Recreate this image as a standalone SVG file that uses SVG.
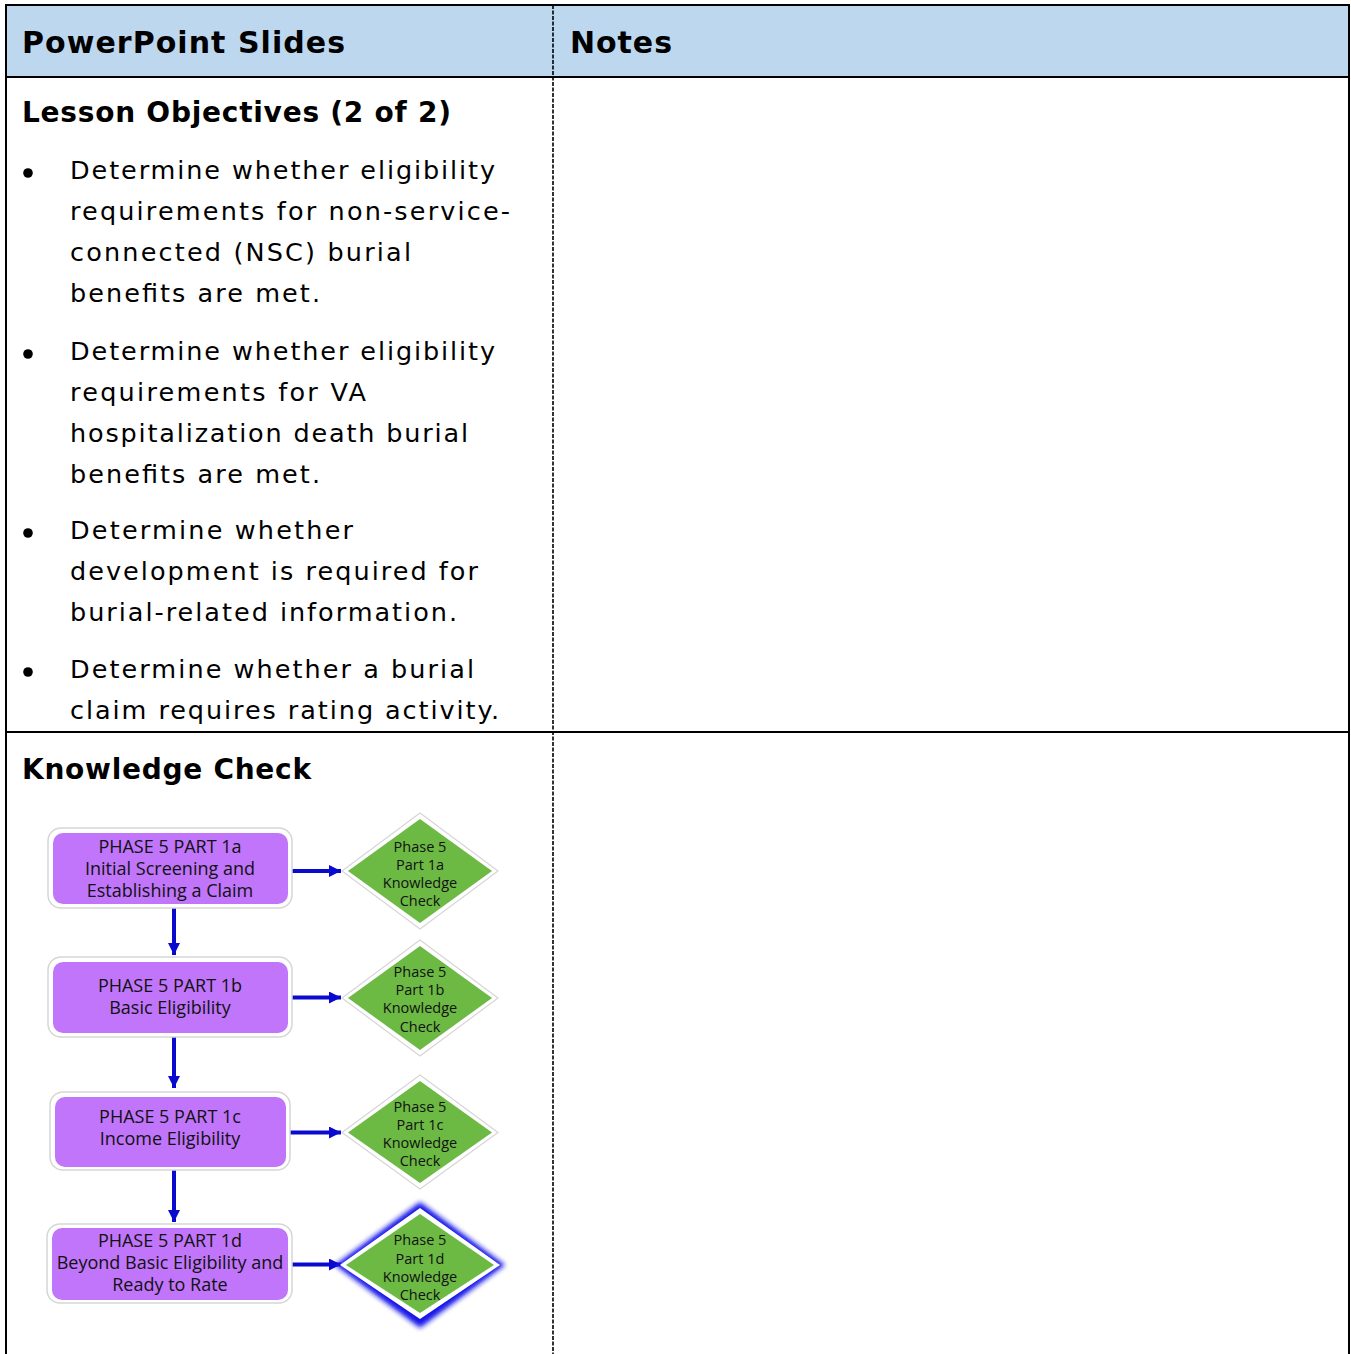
<svg xmlns="http://www.w3.org/2000/svg" width="1351" height="1354" viewBox="0 0 1351 1354">
<defs>
<style>
.hdr{font-family:"DejaVu Sans",Verdana,sans-serif;font-weight:bold;font-size:28px;fill:#000}
.hdr-top{font-size:30px}
.body{font-family:"DejaVu Sans",Verdana,sans-serif;font-size:25.5px;fill:#000}
.box-outer{fill:#fff;stroke:#d6d6d6;stroke-width:1.5}
.box-inner{fill:#C075FA}
.btxt{font-family:"Open Sans",sans-serif;font-size:18px;fill:#111;text-anchor:middle}
.dtxt{font-family:"Open Sans",sans-serif;font-size:14.5px;fill:#111;text-anchor:middle}
.dia-outer{fill:#fff;stroke:#d6d6d6;stroke-width:1.2}
.dia-inner{fill:#6CB944}
.conn{stroke:#0A0ACF;stroke-width:4;fill:none}
</style>
<marker id="ah" viewBox="0 0 10 10" refX="10" refY="5" markerWidth="3" markerHeight="3" markerUnits="strokeWidth" orient="auto">
<path d="M0,0 L10,5 L0,10 z" fill="#0A0ACF"/>
</marker>
<filter id="glow" x="-20%" y="-20%" width="140%" height="140%">
<feGaussianBlur stdDeviation="2.5"/>
</filter>
</defs>

<g id="table">
<rect x="6" y="5" width="1343" height="72" fill="#BDD7EE"/>
<line x1="5" y1="5" x2="1350" y2="5" stroke="#000" stroke-width="2"/>
<line x1="6" y1="4" x2="6" y2="1354" stroke="#000" stroke-width="2"/>
<line x1="1349" y1="4" x2="1349" y2="1354" stroke="#000" stroke-width="2"/>
<line x1="5" y1="77" x2="1350" y2="77" stroke="#000" stroke-width="2"/>
<line x1="5" y1="732" x2="1350" y2="732" stroke="#000" stroke-width="2"/>
<line x1="553" y1="5" x2="553" y2="1354" stroke="#000" stroke-width="1.6" stroke-dasharray="4 1.5"/>
<text class="hdr hdr-top" x="22" y="53" textLength="323" lengthAdjust="spacing">PowerPoint Slides</text>
<text class="hdr hdr-top" x="570" y="53" textLength="102" lengthAdjust="spacing">Notes</text>
</g>

<g id="objectives">
<text class="hdr" x="22" y="122" textLength="429" lengthAdjust="spacing">Lesson Objectives (2 of 2)</text>
<circle cx="28" cy="173" r="4.8"/>
<text class="body" x="70" y="179" textLength="425" lengthAdjust="spacing">Determine whether eligibility</text>
<text class="body" x="70" y="220" textLength="440" lengthAdjust="spacing">requirements for non-service-</text>
<text class="body" x="70" y="261" textLength="341" lengthAdjust="spacing">connected (NSC) burial</text>
<text class="body" x="70" y="302" textLength="250" lengthAdjust="spacing">benefits are met.</text>
<circle cx="28" cy="354" r="4.8"/>
<text class="body" x="70" y="360" textLength="425" lengthAdjust="spacing">Determine whether eligibility</text>
<text class="body" x="70" y="401" textLength="296" lengthAdjust="spacing">requirements for VA</text>
<text class="body" x="70" y="442" textLength="398" lengthAdjust="spacing">hospitalization death burial</text>
<text class="body" x="70" y="483" textLength="250" lengthAdjust="spacing">benefits are met.</text>
<circle cx="28" cy="533" r="4.8"/>
<text class="body" x="70" y="539" textLength="283" lengthAdjust="spacing">Determine whether</text>
<text class="body" x="70" y="580" textLength="408" lengthAdjust="spacing">development is required for</text>
<text class="body" x="70" y="621" textLength="387" lengthAdjust="spacing">burial-related information.</text>
<circle cx="28" cy="672" r="4.8"/>
<text class="body" x="70" y="678" textLength="404" lengthAdjust="spacing">Determine whether a burial</text>
<text class="body" x="70" y="719" textLength="429" lengthAdjust="spacing">claim requires rating activity.</text>
</g>

<g id="kc-heading">
<text class="hdr" x="22" y="779" textLength="289" lengthAdjust="spacing">Knowledge Check</text>
</g>

<g id="connectors">
<line class="conn" x1="174" y1="908" x2="174" y2="955" marker-end="url(#ah)"/>
<line class="conn" x1="174" y1="1037" x2="174" y2="1088" marker-end="url(#ah)"/>
<line class="conn" x1="174" y1="1170" x2="174" y2="1222" marker-end="url(#ah)"/>
<line class="conn" x1="292" y1="871" x2="341" y2="871" marker-end="url(#ah)"/>
<line class="conn" x1="292" y1="997.5" x2="341" y2="997.5" marker-end="url(#ah)"/>
<line class="conn" x1="290" y1="1132.5" x2="341" y2="1132.5" marker-end="url(#ah)"/>
<line class="conn" x1="292" y1="1264.5" x2="341" y2="1264.5" marker-end="url(#ah)"/>
</g>

<g id="box1">
<rect class="box-outer" x="48" y="828" width="244" height="80" rx="13"/>
<rect class="box-inner" x="53" y="833" width="235" height="71" rx="10"/>
<text class="btxt" x="170" y="852.5">PHASE 5 PART 1a</text>
<text class="btxt" x="170" y="874.5">Initial Screening and</text>
<text class="btxt" x="170" y="896.5">Establishing a Claim</text>
</g>
<g id="box2">
<rect class="box-outer" x="48" y="957" width="244" height="80" rx="13"/>
<rect class="box-inner" x="53" y="962" width="235" height="71" rx="10"/>
<text class="btxt" x="170" y="991.5">PHASE 5 PART 1b</text>
<text class="btxt" x="170" y="1013.5">Basic Eligibility</text>
</g>
<g id="box3">
<rect class="box-outer" x="50" y="1092" width="240" height="78" rx="13"/>
<rect class="box-inner" x="55" y="1097" width="231" height="70" rx="10"/>
<text class="btxt" x="170" y="1122.5">PHASE 5 PART 1c</text>
<text class="btxt" x="170" y="1145">Income Eligibility</text>
</g>
<g id="box4">
<rect class="box-outer" x="47" y="1224" width="245" height="79" rx="13"/>
<rect class="box-inner" x="52" y="1228" width="236" height="72" rx="10"/>
<text class="btxt" x="170" y="1246.5">PHASE 5 PART 1d</text>
<text class="btxt" x="170" y="1269">Beyond Basic Eligibility and</text>
<text class="btxt" x="170" y="1290.5">Ready to Rate</text>
</g>

<g id="diamond1">
<polygon class="dia-outer" points="420,813 498,871 420,929 342,871"/>
<polygon class="dia-inner" points="420,819 492,871 420,923 348,871"/>
<text class="dtxt" x="420" y="852">Phase 5</text>
<text class="dtxt" x="420" y="870">Part 1a</text>
<text class="dtxt" x="420" y="888">Knowledge</text>
<text class="dtxt" x="420" y="906">Check</text>
</g>
<g id="diamond2">
<polygon class="dia-outer" points="420,940 498,998 420,1056 342,998"/>
<polygon class="dia-inner" points="420,946 492,998 420,1050 348,998"/>
<text class="dtxt" x="420" y="977">Phase 5</text>
<text class="dtxt" x="420" y="995">Part 1b</text>
<text class="dtxt" x="420" y="1013">Knowledge</text>
<text class="dtxt" x="420" y="1031.5">Check</text>
</g>
<g id="diamond3">
<polygon class="dia-outer" points="420,1075 498,1132.5 420,1189 342,1132.5"/>
<polygon class="dia-inner" points="420,1081 492,1132.5 420,1183 348,1132.5"/>
<text class="dtxt" x="420" y="1111.5">Phase 5</text>
<text class="dtxt" x="420" y="1130">Part 1c</text>
<text class="dtxt" x="420" y="1148">Knowledge</text>
<text class="dtxt" x="420" y="1166">Check</text>
</g>
<g id="diamond4">
<polygon points="420,1202 505,1265 420,1328 335,1265" fill="#1515E8" filter="url(#glow)"/>
<polygon fill="#fff" points="420,1208 500,1265 420,1319 340,1265"/>
<polygon class="dia-inner" points="420,1214 494,1265 420,1313 346,1265"/>
<text class="dtxt" x="420" y="1245">Phase 5</text>
<text class="dtxt" x="420" y="1263.5">Part 1d</text>
<text class="dtxt" x="420" y="1281.5">Knowledge</text>
<text class="dtxt" x="420" y="1299.5">Check</text>
</g>
</svg>
